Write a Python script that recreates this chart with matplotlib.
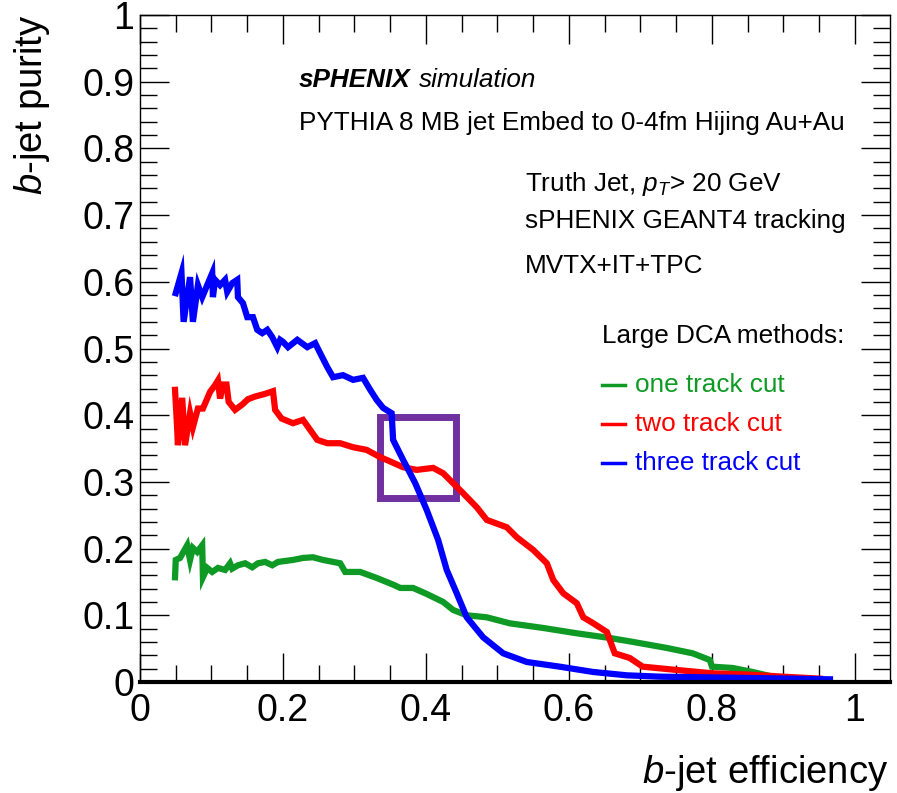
import matplotlib
matplotlib.use("Agg")
import matplotlib.pyplot as plt
from matplotlib.ticker import MultipleLocator
from matplotlib.patches import Rectangle

plt.rcParams['font.family'] = ['Liberation Sans', 'DejaVu Sans']
plt.rcParams['mathtext.fontset'] = 'custom'
plt.rcParams['mathtext.rm'] = 'Liberation Sans'
plt.rcParams['mathtext.it'] = 'Liberation Sans:italic'

# b-jet efficiency / purity for the three large-DCA selections
eff_one = [0.049, 0.050, 0.056, 0.066, 0.070, 0.074, 0.080, 0.087, 0.088, 0.094,
           0.101, 0.109, 0.119, 0.126, 0.129, 0.137, 0.147, 0.157, 0.165, 0.175,
           0.185, 0.193, 0.214, 0.228, 0.242, 0.256, 0.280,
           0.287, 0.308, 0.331, 0.354, 0.364, 0.382, 0.401, 0.424, 0.438, 0.457,
           0.485, 0.517, 0.564, 0.611, 0.657, 0.690, 0.737, 0.773, 0.797, 0.800,
           0.829, 0.857, 0.885, 0.951]
pur_one = [0.157, 0.183, 0.186, 0.205, 0.183, 0.201, 0.195, 0.205, 0.157, 0.171,
           0.165, 0.171, 0.168, 0.178, 0.170, 0.175, 0.178, 0.172, 0.178, 0.180,
           0.175, 0.180, 0.183, 0.186, 0.187, 0.183, 0.178,
           0.165, 0.165, 0.156, 0.146, 0.141, 0.141, 0.132, 0.120, 0.108, 0.100,
           0.097, 0.088, 0.081, 0.073, 0.066, 0.060, 0.051, 0.043, 0.033, 0.023,
           0.021, 0.015, 0.008, 0.003]

eff_two = [0.049, 0.052, 0.053, 0.059, 0.063, 0.070, 0.074, 0.081, 0.088, 0.098,
           0.105, 0.109, 0.112, 0.116, 0.121, 0.124, 0.133, 0.143, 0.151, 0.161,
           0.175, 0.186, 0.189, 0.198, 0.214, 0.228, 0.238, 0.248, 0.262, 0.280,
           0.298, 0.317, 0.336, 0.345, 0.368, 0.387, 0.410, 0.424, 0.438, 0.452,
           0.471, 0.485, 0.513, 0.527, 0.550, 0.569, 0.578, 0.592, 0.611, 0.620,
           0.634, 0.653, 0.664, 0.685, 0.703, 0.751, 0.801, 0.853, 0.899, 0.951]
pur_two = [0.438, 0.380, 0.355, 0.426, 0.355, 0.403, 0.382, 0.410, 0.410, 0.435,
           0.445, 0.452, 0.425, 0.446, 0.446, 0.420, 0.408, 0.416, 0.424, 0.428,
           0.432, 0.436, 0.408, 0.395, 0.388, 0.393, 0.378, 0.363, 0.358, 0.358,
           0.352, 0.348, 0.337, 0.333, 0.322, 0.318, 0.321, 0.313, 0.298, 0.283,
           0.262, 0.243, 0.232, 0.217, 0.198, 0.178, 0.153, 0.133, 0.118, 0.097,
           0.088, 0.075, 0.043, 0.036, 0.023, 0.018, 0.013, 0.011, 0.008, 0.005]

eff_three = [0.050, 0.058, 0.061, 0.070, 0.074, 0.081, 0.087, 0.101, 0.102, 0.105,
             0.112, 0.119, 0.122, 0.129, 0.136, 0.137, 0.144, 0.150, 0.158, 0.164,
             0.171, 0.178, 0.185, 0.192, 0.196, 0.200, 0.207, 0.220, 0.234, 0.245,
             0.252, 0.262, 0.270, 0.284, 0.298, 0.312,
             0.322, 0.331, 0.340, 0.352, 0.354, 0.368, 0.385, 0.401, 0.417, 0.429,
             0.443, 0.457, 0.480, 0.508, 0.541, 0.587, 0.634, 0.681, 0.727, 0.853,
             0.965]
pur_three = [0.583, 0.613, 0.540, 0.607, 0.540, 0.595, 0.577, 0.613, 0.577, 0.603,
             0.595, 0.603, 0.585, 0.598, 0.603, 0.577, 0.568, 0.547, 0.547, 0.528,
             0.523, 0.528, 0.517, 0.502, 0.513, 0.510, 0.502, 0.513, 0.502, 0.508,
             0.493, 0.472, 0.457, 0.460, 0.453, 0.456,
             0.438, 0.423, 0.411, 0.403, 0.363, 0.333, 0.298, 0.258, 0.213, 0.168,
             0.133, 0.097, 0.067, 0.043, 0.030, 0.023, 0.015, 0.010, 0.008, 0.006,
             0.004]

# highlighted crossing region (efficiency range, purity range)
box_eff = [0.335, 0.442]
box_pur = [0.276, 0.397]

green = '#0e9a24'
red = '#ff0000'
blue = '#0000ff'

fig = plt.figure(figsize=(8.97, 7.93), dpi=100)
ax = fig.add_axes([140/897, 1-682/793, 750/897, 667/793])

lw = 4.5
ax.plot(eff_one, pur_one, color=green, lw=lw, solid_joinstyle='miter')
ax.plot(eff_two, pur_two, color=red, lw=lw, solid_joinstyle='miter')
ax.plot(eff_three, pur_three, color=blue, lw=lw, solid_joinstyle='miter')

ax.add_patch(Rectangle((box_eff[0], box_pur[0]), box_eff[1]-box_eff[0],
                       box_pur[1]-box_pur[0], fill=False, ec='#7030a0', lw=5,
                       joinstyle='miter'))

ax.set_xlim(0, 1.049)
ax.set_ylim(0, 1)
ax.xaxis.set_minor_locator(MultipleLocator(0.05))
ax.yaxis.set_minor_locator(MultipleLocator(0.02))
ax.set_xticks([0, 0.2, 0.4, 0.6, 0.8, 1.0])
ax.set_xticklabels(['0', '0.2', '0.4', '0.6', '0.8', '1'])
ax.set_yticks([i/10 for i in range(11)])
ax.set_yticklabels(['0'] + ['0.%d' % i for i in range(1, 10)] + ['1'])
ax.tick_params(which='both', direction='in', top=True, right=True,
               labelsize=27, width=1, color='black')
ax.tick_params(which='major', length=21)
ax.tick_params(which='minor', length=12)
ax.tick_params(axis='x', pad=8)
ax.tick_params(axis='y', pad=4)
for s in ['left', 'top', 'right']:
    ax.spines[s].set_linewidth(1)
ax.spines['bottom'].set_linewidth(3)

fig.text(32/897, 1-15/793, r'$b$-jet purity', rotation=90, ha='center',
         va='top', fontsize=27.5)
fig.text(888/897, 1-783/793, r'$b$-jet efficiency', ha='right',
         va='baseline', fontsize=27.5)

def px(x, y):
    return ((x-140)/715, (682-y)/667)

fs = 18.8
t = ax.text(*px(299, 87), 'sPHENIX', fontsize=fs, fontweight='bold',
            fontstyle='italic', va='baseline')
ax.annotate('simulation', xy=(1, 0), xycoords=t, xytext=(6, 0),
            textcoords='offset points', fontsize=fs, fontstyle='italic',
            va='bottom')
ax.text(*px(299, 130), 'PYTHIA 8 MB jet Embed to 0-4fm Hijing Au+Au',
        fontsize=fs, va='baseline')
ax.text(*px(525, 191), r'Truth Jet, $p_T$> 20 GeV', fontsize=fs, va='baseline')
ax.text(*px(525, 228), 'sPHENIX GEANT4 tracking', fontsize=fs, va='baseline')
ax.text(*px(525, 273), 'MVTX+IT+TPC', fontsize=fs, va='baseline')

# legend drawn by hand
ax.text(*px(602, 343), 'Large DCA methods:', fontsize=fs, va='baseline')
for label, c, yb in [('one track cut', green, 392),
                     ('two track cut', red, 431),
                     ('three track cut', blue, 470)]:
    x0, y0 = px(602, yb-7)
    x1, _ = px(625, yb-7)
    ax.plot([x0, x1], [y0, y0], color=c, lw=2.5)
    ax.text(*px(635, yb), label, fontsize=fs, color=c, va='baseline')

fig.savefig('out.png', dpi=100)
